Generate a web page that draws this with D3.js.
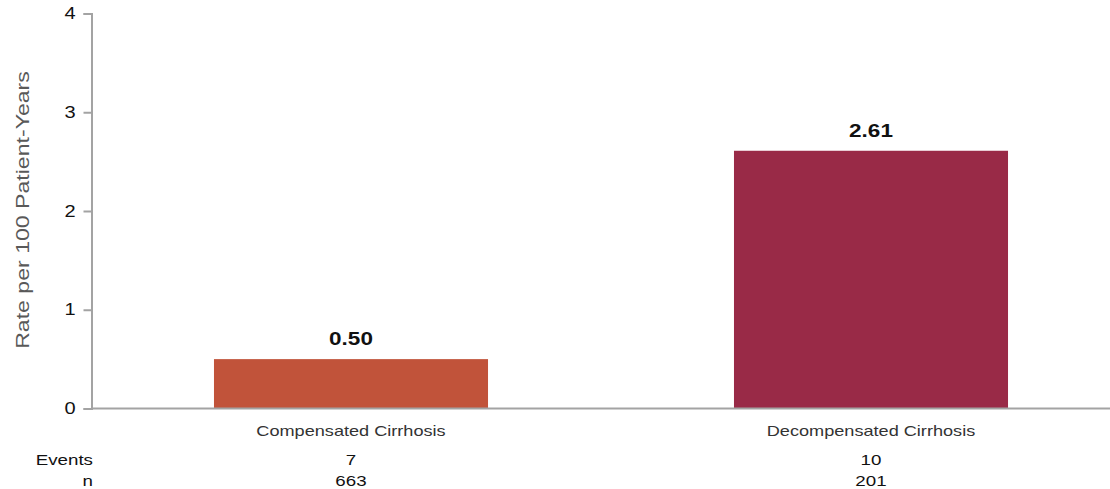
<!DOCTYPE html>
<html>
<head>
<meta charset="utf-8">
<script src="https://cdn.jsdelivr.net/npm/d3@7"></script>
<style>
    body { margin: 0; padding: 0; background: #fff; font-family: Arial, "Liberation Sans", sans-serif; }
    svg { display: block; }
</style>
</head>
<body>
<div id="chart"></div>
<script>
    var categories = ["Compensated Cirrhosis", "Decompensated Cirrhosis"];
    var rates = [0.50, 2.61];
    var events = [7, 10];
    var patients = [663, 201];
    var yTicks = [0, 1, 2, 3, 4];
    var barColors = ["#c1533a", "#992a47"];

    var W = 1110, H = 489;
    var STRETCH = 1.25; // text in the original is drawn a bit wide

    var svg = d3.select("#chart").append("svg")
        .attr("width", W)
        .attr("height", H);

    var x = d3.scaleBand()
        .domain(categories)
        .range([91, 1131])
        .paddingInner(0.473)
        .paddingOuter(0.2365);

    var y = d3.scaleLinear()
        .domain([0, 4])
        .range([408.5, 13.5]);

    function wideText(g, px, py, str, anchor) {
        return g.append("text")
            .attr("transform", "translate(" + px + "," + py + ") scale(" + STRETCH + ",1)")
            .attr("text-anchor", anchor || "middle")
            .text(str);
    }

    // y axis
    var yAxis = svg.append("g")
        .attr("transform", "translate(91.5,0)")
        .call(d3.axisLeft(y).tickValues(yTicks).tickSize(8).tickPadding(6).tickFormat(d3.format("d")));
    yAxis.select(".domain").attr("stroke", "#a3a3a3").attr("stroke-width", 2);
    yAxis.selectAll(".tick line").attr("stroke", "#a3a3a3").attr("stroke-width", 2);
    yAxis.selectAll(".tick text")
        .attr("x", -16 / STRETCH)
        .attr("transform", "scale(" + STRETCH + ",1)")
        .attr("fill", "#111")
        .style("font-size", "16px")
        .style("font-family", "Arial, 'Liberation Sans', sans-serif");

    // bars
    svg.selectAll("rect.bar")
        .data(categories)
        .enter()
        .append("rect")
        .attr("class", "bar")
        .attr("x", function(d) { return x(d); })
        .attr("width", x.bandwidth())
        .attr("y", function(d, i) { return y(rates[i]); })
        .attr("height", function(d, i) { return y(0) - y(rates[i]); })
        .attr("fill", function(d, i) { return barColors[i]; });

    // x axis line
    svg.append("line")
        .attr("x1", 91).attr("x2", W)
        .attr("y1", 408.5).attr("y2", 408.5)
        .attr("stroke", "#a3a3a3")
        .attr("stroke-width", 2);

    categories.forEach(function(c, i) {
        var cx = x(c) + x.bandwidth() / 2;
        // value label
        wideText(svg, cx, y(rates[i]) - 14, rates[i].toFixed(2))
            .attr("fill", "#111")
            .style("font-size", "18px")
            .style("font-weight", "bold");
        // category label
        wideText(svg, cx, 436, c)
            .attr("fill", "#333")
            .style("font-size", "14.5px");
        wideText(svg, cx, 465, events[i])
            .attr("fill", "#111")
            .style("font-size", "15px");
        wideText(svg, cx, 486, patients[i])
            .attr("fill", "#111")
            .style("font-size", "15px");
    });

    wideText(svg, 93, 465, "Events", "end")
        .attr("fill", "#111")
        .style("font-size", "15px");
    wideText(svg, 93, 486, "n", "end")
        .attr("fill", "#111")
        .style("font-size", "15px");

    // y axis title
    svg.append("text")
        .attr("transform", "translate(29,210) rotate(-90) scale(1.32,1)")
        .attr("text-anchor", "middle")
        .attr("fill", "#595959")
        .style("font-size", "17.5px")
        .text("Rate per 100 Patient-Years");
</script>
</body>
</html>
